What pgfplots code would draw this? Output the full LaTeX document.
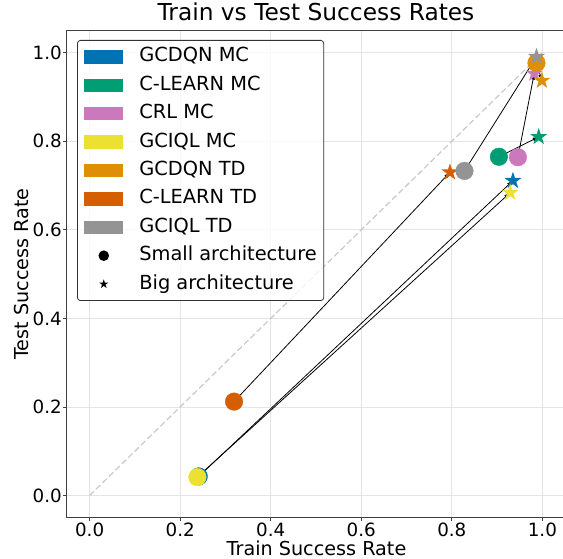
\documentclass[border=0pt]{standalone}
\usepackage{pgfplots}
\pgfplotsset{compat=1.18}
\usepackage{fontspec}
\setmainfont{DejaVu Sans}
\usetikzlibrary{arrows.meta}

\definecolor{cA}{HTML}{0173B2}
\definecolor{cB}{HTML}{029E73}
\definecolor{cC}{HTML}{CC78BC}
\definecolor{cD}{HTML}{ECE133}
\definecolor{cE}{HTML}{DE8F05}
\definecolor{cF}{HTML}{D55E00}
\definecolor{cG}{HTML}{949494}

\pgfdeclareplotmark{fstar}{%
  \pgfpathmoveto{\pgfpointpolar{90}{\pgfplotmarksize}}%
  \pgfpathlineto{\pgfpointpolar{126}{0.382\pgfplotmarksize}}%
  \pgfpathlineto{\pgfpointpolar{162}{\pgfplotmarksize}}%
  \pgfpathlineto{\pgfpointpolar{198}{0.382\pgfplotmarksize}}%
  \pgfpathlineto{\pgfpointpolar{234}{\pgfplotmarksize}}%
  \pgfpathlineto{\pgfpointpolar{270}{0.382\pgfplotmarksize}}%
  \pgfpathlineto{\pgfpointpolar{306}{\pgfplotmarksize}}%
  \pgfpathlineto{\pgfpointpolar{342}{0.382\pgfplotmarksize}}%
  \pgfpathlineto{\pgfpointpolar{18}{\pgfplotmarksize}}%
  \pgfpathlineto{\pgfpointpolar{54}{0.382\pgfplotmarksize}}%
  \pgfpathclose
  \pgfusepathqfill
}

\pgfplotsset{
  legpatch/.style={legend image code/.code={\path[draw=none, fill=#1, fill opacity=1, sharp corners] (0pt,-6.65pt) rectangle (38.7pt,6.65pt);}},
}

\begin{document}
\begin{tikzpicture}
\begin{axis}[
  scale only axis,
  width=498pt, height=487pt,
  xmin=-0.05, xmax=1.05, ymin=-0.05, ymax=1.05,
  xtick={0,0.2,0.4,0.6,0.8,1.0},
  ytick={0,0.2,0.4,0.6,0.8,1.0},
  xtick pos=left, ytick pos=left,
  tick align=outside,
  major tick length=3.5pt,
  tick style={black!75, line width=0.8pt},
  axis line style={black!75, line width=1pt},
  grid=major,
  major grid style={black!10, line width=0.8pt},
  /pgf/number format/assume math mode=true,
  /pgf/number format/fixed, /pgf/number format/fixed zerofill, /pgf/number format/precision=1,
  ticklabel style={font=\fontsize{18.3}{20}\selectfont},
  xticklabel style={inner sep=1pt, yshift=-1pt},
  yticklabel style={inner sep=1.5pt},
  title={Train vs Test Success Rates},
  title style={at={(axis description cs:0.5,1.0094)}, anchor=base, font=\fontsize{23.3}{26}\selectfont, inner sep=0pt},
  xlabel={Train Success Rate},
  ylabel={Test Success Rate},
  xlabel style={at={(axis description cs:0.501,-0.078)}, anchor=base, font=\fontsize{19.2}{22}\selectfont, inner sep=0pt},
  ylabel style={at={(axis description cs:-0.0777,0.5)}, anchor=base, rotate=0, font=\fontsize{19.2}{22}\selectfont, inner sep=0pt},
  legend cell align=left,
  legend style={at={(0.0201,0.9807)}, anchor=north west, draw=black!80, rounded corners=3pt,
    fill=white, fill opacity=0.8, text opacity=1, line width=0.8pt,
    font=\fontsize{19.4}{22}\selectfont,
    inner xsep=7pt, inner ysep=7.5pt, row sep=10.4pt,
    nodes={inner sep=0pt, text height=14pt, text depth=4pt}},
  legend style={/tikz/every odd column/.append style={column sep=16.2pt}},
]
\addlegendimage{legpatch=cA}\addlegendentry{GCDQN MC}
\addlegendimage{legpatch=cB}\addlegendentry{C-LEARN MC}
\addlegendimage{legpatch=cC}\addlegendentry{CRL MC}
\addlegendimage{legpatch=cD}\addlegendentry{GCIQL MC}
\addlegendimage{legpatch=cE}\addlegendentry{GCDQN TD}
\addlegendimage{legpatch=cF}\addlegendentry{C-LEARN TD}
\addlegendimage{legpatch=cG}\addlegendentry{GCIQL TD}
\addlegendimage{legend image code/.code={\path[draw=none, fill=none] (0pt,0pt) -- (38.7pt,0pt); \path[draw=none, fill=black, fill opacity=1] (19.35pt,0pt) circle (5.3pt);}}\addlegendentry{Small architecture}
\addlegendimage{legend image code/.code={\path[draw=none, fill=none] (0pt,0pt) -- (38.7pt,0pt); \path[draw=none, fill=black, fill opacity=1, sharp corners, shift={(19.35pt,0pt)}] (90:4.8pt) -- (126:1.83pt) -- (162:4.8pt) -- (198:1.83pt) -- (234:4.8pt) -- (270:1.83pt) -- (306:4.8pt) -- (342:1.83pt) -- (18:4.8pt) -- (54:1.83pt) -- cycle;}}\addlegendentry{Big architecture}

% diagonal
\addplot[forget plot, black!20, line width=1.3pt, dash pattern=on 6pt off 3pt] coordinates {(0,0) (1,1)};

% GCDQN MC
\addplot[forget plot, only marks, mark=*, mark size=8.8pt, cA] coordinates {(0.241,0.043)};
\addplot[forget plot, only marks, mark=fstar, mark size=9pt, cA] coordinates {(0.935,0.711)};
\addplot[forget plot, black, line width=0.8pt, -{Latex[length=6pt,width=4pt]}] coordinates {(0.241,0.043) (0.935,0.711)};
% C-LEARN MC
\addplot[forget plot, only marks, mark=*, mark size=8.8pt, cB] coordinates {(0.904,0.765)};
\addplot[forget plot, only marks, mark=fstar, mark size=9pt, cB] coordinates {(0.992,0.810)};
\addplot[forget plot, black, line width=0.8pt, -{Latex[length=6pt,width=4pt]}] coordinates {(0.904,0.765) (0.992,0.810)};
% CRL MC
\addplot[forget plot, only marks, mark=*, mark size=8.8pt, cC] coordinates {(0.946,0.764)};
\addplot[forget plot, only marks, mark=fstar, mark size=9pt, cC] coordinates {(0.982,0.953)};
\addplot[forget plot, black, line width=0.8pt, -{Latex[length=6pt,width=4pt]}] coordinates {(0.946,0.764) (0.982,0.953)};
% GCIQL MC
\addplot[forget plot, only marks, mark=*, mark size=8.8pt, cD] coordinates {(0.238,0.0415)};
\addplot[forget plot, only marks, mark=fstar, mark size=9pt, cD] coordinates {(0.929,0.684)};
\addplot[forget plot, black, line width=0.8pt, -{Latex[length=6pt,width=4pt]}] coordinates {(0.238,0.0415) (0.929,0.684)};
% GCDQN TD
\addplot[forget plot, only marks, mark=*, mark size=8.8pt, cE] coordinates {(0.987,0.977)};
\addplot[forget plot, only marks, mark=fstar, mark size=9pt, cE] coordinates {(0.999,0.937)};
\addplot[forget plot, black, line width=0.8pt, -{Latex[length=6pt,width=4pt]}] coordinates {(0.987,0.977) (0.999,0.937)};
% C-LEARN TD
\addplot[forget plot, only marks, mark=*, mark size=8.8pt, cF] coordinates {(0.319,0.212)};
\addplot[forget plot, only marks, mark=fstar, mark size=9pt, cF] coordinates {(0.796,0.730)};
\addplot[forget plot, black, line width=0.8pt, -{Latex[length=6pt,width=4pt]}] coordinates {(0.319,0.212) (0.796,0.730)};
% GCIQL TD
\addplot[forget plot, only marks, mark=*, mark size=8.8pt, cG] coordinates {(0.828,0.733)};
\addplot[forget plot, only marks, mark=fstar, mark size=9pt, cG] coordinates {(0.987,0.991)};
\addplot[forget plot, black, line width=0.8pt, -{Latex[length=6pt,width=4pt]}] coordinates {(0.828,0.733) (0.987,0.991)};
\end{axis}
\pgfresetboundingbox
\path ([xshift=-67pt, yshift=-41.4pt]current axis.south west) rectangle ([xshift=-2pt, yshift=30.6pt]current axis.north east);
\end{tikzpicture}
\end{document}
